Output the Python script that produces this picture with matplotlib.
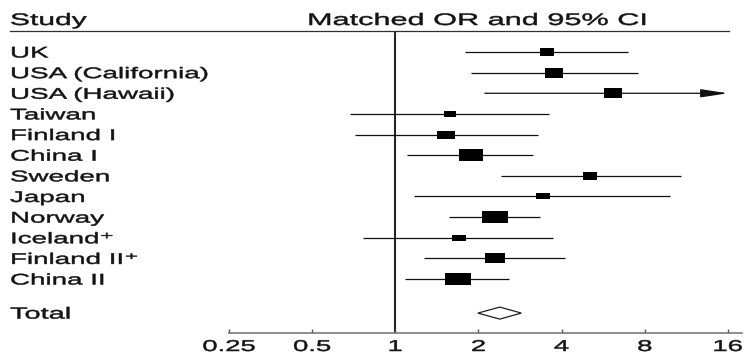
import numpy as np
import matplotlib
matplotlib.use("Agg")
import matplotlib.pyplot as plt
from matplotlib import transforms
from matplotlib.patheffects import AbstractPathEffect
from matplotlib.path import Path
from matplotlib.patches import Polygon, FancyArrowPatch
from matplotlib.lines import Line2D
from matplotlib.ticker import NullLocator

# ---------------- data ----------------
studies = ["UK", "USA (California)", "USA (Hawaii)", "Taiwan", "Finland I",
           "China I", "Sweden", "Japan", "Norway", "Iceland\u207a",
           "Finland II\u207a", "China II"]
odds_ratio = [3.55, 3.76, 6.12, 1.58, 1.52, 1.88, 5.07, 3.44, 2.29, 1.70, 2.29, 1.68]
ci_low = [1.79, 1.88, 2.11, 0.685, 0.715, 1.10, 2.41, 1.17, 1.56, 0.765, 1.27, 1.08]
ci_high = [6.95, 7.55, 20.0, 3.60, 3.28, 3.16, 10.8, 9.9, 3.34, 3.73, 4.13, 2.59]  # Hawaii upper limit lies beyond the axis
weights = [5.0, 8.0, 8.0, 2.7, 7.2, 13.9, 5.0, 4.3, 16.2, 3.8, 9.8, 16.2]  # relative study weights (box area)
total_label = "Total"
total_or, total_low, total_high = 2.39, 1.99, 2.86
tick_values = [0.25, 0.5, 1, 2, 4, 8, 16]
tick_labels = ["0.25", "0.5", "1", "2", "4", "8", "16"]
header_left = "Study"
header_right = "Matched OR and 95% CI"

# ---------------- helpers ----------------
class HStretch(AbstractPathEffect):
    """Render text horizontally widened (the reference is stretched), slightly heavier."""
    def __init__(self, sx, anchor="left", stroke=0.35):
        super().__init__()
        self.sx = sx
        self.anchor = anchor
        self.stroke = stroke

    def draw_path(self, renderer, gc, tpath, affine, rgbFace=None):
        if self.anchor == "center":
            ext = tpath.get_extents(affine)
            x0 = 0.5 * (ext.x0 + ext.x1)
        else:
            x0 = affine.get_matrix()[0, 2]
        new = affine + transforms.Affine2D().translate(-x0, 0).scale(self.sx, 1).translate(x0, 0)
        gc0 = renderer.new_gc()
        gc0.copy_properties(gc)
        if rgbFace is not None:
            gc0.set_foreground(rgbFace)
        gc0.set_linewidth(self.stroke)
        renderer.draw_path(gc0, tpath, new, rgbFace)
        gc0.restore()


FONT = ["Liberation Sans", "DejaVu Sans"]
TXT = "#141414"
W, H = 746, 356
row0_px, row_step_px = 52.0, 20.64
ax_top_px, ax_bot_px = 31.0, 333.0
ax_left_px, ax_right_px = 229.0, 742.0

fig = plt.figure(figsize=(W / 100, H / 100), dpi=100)
fig.patch.set_facecolor("white")
ax = fig.add_axes([ax_left_px / W, 1 - ax_bot_px / H,
                   (ax_right_px - ax_left_px) / W, (ax_bot_px - ax_top_px) / H])
ax.set_xscale("log", base=2)
ax.set_xlim(0.25, 18.0)
ax.set_ylim((ax_bot_px - row0_px) / row_step_px, (ax_top_px - row0_px) / row_step_px)
for s in ["top", "left", "right"]:
    ax.spines[s].set_visible(False)
ax.spines["bottom"].set_color("#7a7a7a")
ax.spines["bottom"].set_linewidth(1.2)
ax.set_xticks(tick_values)
ax.xaxis.set_minor_locator(NullLocator())
ax.tick_params(axis="x", direction="in", length=3, width=1.0, color="#555555",
               labelbottom=False)
ax.set_yticks([])
ax.patch.set_alpha(0)

rows = np.arange(len(studies))
total_row = len(studies) + 0.65

# reference line at OR = 1
ax.axvline(1, color="#262626", lw=1.5, zorder=1)

# confidence intervals
xmax_tick = tick_values[-1]
for i, (lo, hi) in enumerate(zip(ci_low, ci_high)):
    if hi > xmax_tick:
        arr = FancyArrowPatch((lo, rows[i]), (xmax_tick, rows[i]),
                              arrowstyle="-|>,head_length=16.5,head_width=2.5",
                              mutation_scale=1, shrinkA=0, shrinkB=0,
                              lw=0.9, color="#101010", zorder=2)
        ax.add_patch(arr)
    else:
        ax.plot([lo, hi], [rows[i], rows[i]], color="#101010", lw=0.9,
                solid_capstyle="butt", zorder=2)

# boxes (widened rectangles, area ~ weight)
rect = Path([(-1, -0.48), (1, -0.48), (1, 0.48), (-1, 0.48), (-1, -0.48)],
            [Path.MOVETO, Path.LINETO, Path.LINETO, Path.LINETO, Path.CLOSEPOLY])
for i, (orv, wt) in enumerate(zip(odds_ratio, weights)):
    width_px = 6.7 * np.sqrt(wt)
    ax.plot(orv, rows[i], marker=rect, markersize=width_px * 0.72,
            color="black", mew=0, zorder=3)

# total diamond
dh = 6.0 / row_step_px
diamond = Polygon([(total_low, total_row), (total_or, total_row - dh),
                   (total_high, total_row), (total_or, total_row + dh)],
                  closed=True, facecolor="white", edgecolor="#202020", lw=0.9, zorder=3)
ax.add_patch(diamond)

# study labels
lab_tr = transforms.blended_transform_factory(fig.transFigure, ax.transData)
base_off = 5.5 / row_step_px
for i, s in enumerate(studies):
    ax.text(10 / W, rows[i] + base_off, s, transform=lab_tr, ha="left", va="baseline",
            fontsize=11.1, family=FONT, color=TXT, clip_on=False,
            path_effects=[HStretch(1.8)])
ax.text(10 / W, total_row + base_off, total_label, transform=lab_tr, ha="left",
        va="baseline", fontsize=11.6, family=FONT, color=TXT, clip_on=False,
        path_effects=[HStretch(1.8)])

# tick labels
tl_tr = transforms.blended_transform_factory(ax.transData, fig.transFigure)
for v, lab in zip(tick_values, tick_labels):
    ax.text(v, 1 - 351 / H, lab, transform=tl_tr, ha="center", va="baseline",
            fontsize=11.3, family=FONT, color=TXT, clip_on=False,
            path_effects=[HStretch(1.75, "center")])

# headers
fig.text(10 / W, 1 - 25 / H, header_left, ha="left", va="baseline", fontsize=12,
         family=FONT, color=TXT, path_effects=[HStretch(1.8)])
fig.text(307 / W, 1 - 25 / H, header_right, ha="left", va="baseline", fontsize=12,
         family=FONT, color=TXT, path_effects=[HStretch(1.84)])
fig.add_artist(Line2D([10 / W, 729 / W], [1 - ax_top_px / H] * 2,
                      transform=fig.transFigure, color="#303030", lw=0.9))

fig.savefig("out.png", dpi=100, facecolor="white")
